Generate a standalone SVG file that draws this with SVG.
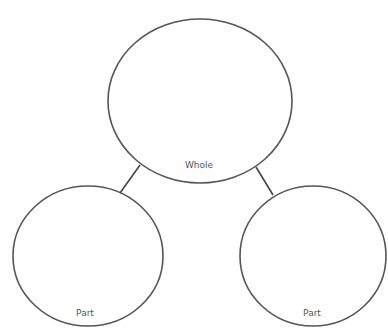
<svg xmlns="http://www.w3.org/2000/svg" width="388" height="329" viewBox="0 0 388 329">
<style>
.n{fill:none;stroke:#555;stroke-width:1.6}
.c{stroke:#444;stroke-width:1.6}
.t{font-family:"DejaVu Sans",Verdana,sans-serif;font-size:9px;fill:#555;text-anchor:middle}
</style>
<rect width="388" height="329" fill="#fff"/>
<g id="connectors">
<line class="c" x1="140" y1="165" x2="120" y2="193"/>
<line class="c" x1="256" y1="167" x2="273" y2="195"/>
</g>
<g id="whole">
<ellipse class="n" cx="200" cy="101" rx="92" ry="82"/>
<text class="t" x="199" y="168">Whole</text>
</g>
<g id="part-left">
<ellipse class="n" cx="88" cy="256" rx="75" ry="70"/>
<text class="t" x="85" y="316">Part</text>
</g>
<g id="part-right">
<ellipse class="n" cx="313" cy="256" rx="73" ry="70"/>
<text class="t" x="312" y="316">Part</text>
</g>
</svg>
